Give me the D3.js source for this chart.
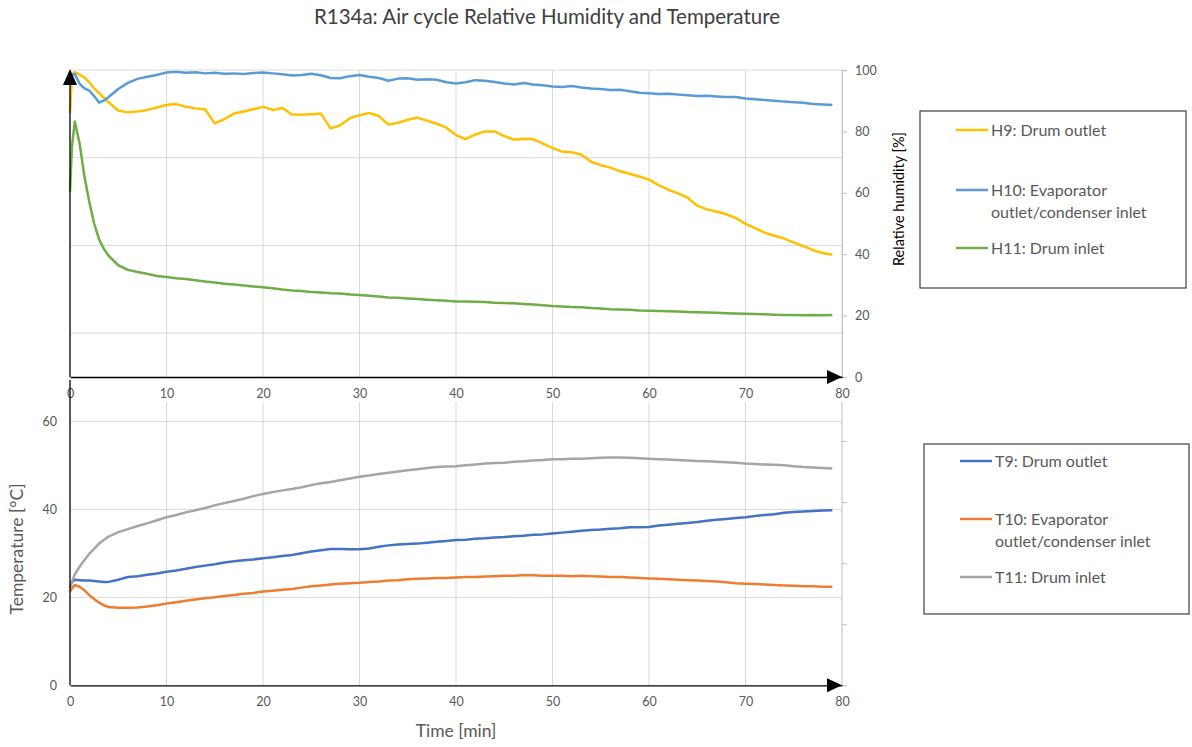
<!DOCTYPE html>
<html><head><meta charset="utf-8">
<script src="https://cdn.jsdelivr.net/npm/d3@7"></script>
<style>
html,body{margin:0;padding:0;background:#fff;}
svg{display:block;font-family:Lato, "Liberation Sans", sans-serif;}
</style></head>
<body>
<svg id="chart" width="1192" height="747"></svg>
<script>
// ---------- DATA ----------
const title = "R134a: Air cycle Relative Humidity and Temperature";
const minutes = [0,0.2,0.5,1,1.5,2,2.5,3,3.5,4,5,6,7,8,9,10,11,12,13,14,15,16,17,18,19,20,21,22,23,24,25,26,27,28,29,30,31,32,33,34,35,36,37,38,39,40,41,42,43,44,45,46,47,48,49,50,51,52,53,54,55,56,57,58,59,60,61,62,63,64,65,66,67,68,69,70,71,72,73,74,75,76,77,78,79];
const xTicks = [0,10,20,30,40,50,60,70,80];
const rhTicks = [0,20,40,60,80,100];
const tempTicks = [0,20,40,60];

const H9 = [86,98.5,99.3,98.5,97.5,96,94,92.5,91,89.5,86.8,86.2,86.5,87,87.8,88.6,88.9,88,87.5,87.2,82.6,84,85.8,86.5,87.2,88,87,87.6,85.5,85.4,85.6,85.8,81,82,84.3,85.3,86,85,82.2,82.8,83.8,84.5,83.5,82.5,81.2,78.8,77.5,79,80,80,78.5,77.3,77.6,77.5,76,74.6,73.4,73.2,72.4,70.1,69,68.2,67,66.2,65.3,64.3,62.5,61,59.8,58.4,55.8,54.6,53.9,53,51.8,49.9,48.5,47,46,45.1,43.8,42.6,41.3,40.4,39.8];
const H10 = [95.5,98.5,98.7,95.5,94,93.3,91.5,89.4,90,91.2,93.8,95.8,97.1,97.8,98.4,99.2,99.4,99.1,99.3,98.9,99.1,98.8,98.9,98.7,99,99.2,98.9,98.6,98.2,98.4,98.8,98.3,97.4,97.3,98,98.4,97.8,97.4,96.5,97.2,97.3,96.8,97,96.8,96,95.6,96,96.7,96.5,96.1,95.6,95.3,95.8,95.3,95,94.6,94.5,94.8,94.3,94,93.8,93.5,93.6,93.1,92.6,92.4,92.2,92.3,92,91.8,91.5,91.6,91.4,91.2,91.2,90.7,90.5,90.2,90,89.7,89.5,89.3,88.9,88.8,88.6];
const H11 = [60.4,75,83.2,76,65.2,57,50,45,41.8,39.5,36.4,34.9,34.2,33.6,32.9,32.6,32.2,31.9,31.5,31.1,30.8,30.4,30.1,29.8,29.5,29.2,28.9,28.5,28.2,28,27.7,27.5,27.3,27.2,26.9,26.7,26.5,26.2,25.9,25.8,25.6,25.4,25.2,25,24.8,24.6,24.6,24.5,24.4,24.2,24.1,24,23.8,23.6,23.4,23.1,23,22.8,22.7,22.5,22.3,22.1,22,21.9,21.7,21.6,21.5,21.4,21.3,21.2,21.1,21,20.9,20.8,20.7,20.6,20.5,20.4,20.3,20.2,20.2,20.1,20.2,20.1,20.2];
const T9 = [22.4,23.5,24,23.9,23.8,23.8,23.7,23.6,23.5,23.5,24,24.6,24.8,25.1,25.4,25.8,26.1,26.5,26.9,27.2,27.5,27.9,28.2,28.4,28.6,28.9,29.1,29.4,29.6,30,30.4,30.7,31,31,30.9,30.9,31.1,31.5,31.8,32,32.1,32.2,32.4,32.6,32.8,33,33.1,33.3,33.4,33.6,33.7,33.9,34,34.2,34.3,34.5,34.7,34.9,35.1,35.3,35.4,35.6,35.7,35.9,35.9,36,36.3,36.5,36.7,36.9,37.1,37.4,37.6,37.8,38,38.2,38.5,38.7,38.9,39.2,39.4,39.5,39.6,39.7,39.8];
const T10 = [21.3,22,22.8,22.4,21.6,20.5,19.6,18.8,18.2,17.8,17.6,17.6,17.7,17.9,18.2,18.6,18.9,19.2,19.5,19.8,20,20.3,20.5,20.8,21,21.3,21.5,21.7,21.9,22.2,22.5,22.7,22.9,23.1,23.2,23.3,23.5,23.6,23.8,23.9,24.1,24.2,24.3,24.4,24.4,24.5,24.6,24.6,24.7,24.8,24.9,24.9,25,25,24.9,24.9,24.9,24.8,24.9,24.8,24.7,24.6,24.6,24.5,24.4,24.3,24.2,24.1,24,23.9,23.8,23.7,23.6,23.4,23.2,23.1,23,22.9,22.8,22.7,22.6,22.5,22.5,22.4,22.4];
const T11 = [22,23.5,25.2,27,28.5,29.9,31,32.2,33,33.8,34.8,35.5,36.2,36.8,37.5,38.2,38.7,39.3,39.8,40.3,40.9,41.4,41.9,42.4,43,43.5,43.9,44.3,44.6,45,45.5,45.9,46.2,46.6,47,47.4,47.7,48,48.3,48.6,48.9,49.1,49.4,49.6,49.7,49.8,50,50.2,50.4,50.5,50.6,50.8,50.9,51.1,51.2,51.4,51.4,51.5,51.5,51.6,51.7,51.8,51.8,51.7,51.6,51.5,51.4,51.3,51.2,51.1,51,50.9,50.8,50.7,50.6,50.4,50.3,50.2,50.1,50,49.8,49.6,49.5,49.4,49.3];

const humSeries = [
  {name:["H9: Drum outlet"], values:H9, color:"#FFC000"},
  {name:["H10: Evaporator","outlet/condenser inlet"], values:H10, color:"#5B9BD5"},
  {name:["H11: Drum inlet"], values:H11, color:"#70AD47"}
];
const tempSeries = [
  {name:["T9: Drum outlet"], values:T9, color:"#4472C4"},
  {name:["T10: Evaporator","outlet/condenser inlet"], values:T10, color:"#ED7D31"},
  {name:["T11: Drum inlet"], values:T11, color:"#A5A5A5"}
];

// ---------- DRAW ----------
const svg = d3.select("#chart");
const grid = "#d9d9d9", axisGray = "#bfbfbf", txt = "#595959";

svg.append("text").attr("x", 547).attr("y", 24).attr("text-anchor","middle")
  .attr("font-size", 20.5).attr("fill", "#404040").text(title);

const x = d3.scaleLinear().domain([0,80]).range([70,842]);

function arrowRight(yy){
  svg.append("path").attr("d", `M${x(80)},${yy} l-15,-7 l0,14 z`).attr("fill","#000");
}

// ===== Top chart =====
const topY0 = 377, topY1 = 70;
const yRH = d3.scaleLinear().domain([0,100]).range([topY0, topY1]);
const yGridTop = d3.scaleLinear().domain([-10,60]).range([topY0, topY1]);

const gTop = svg.append("g");
gTop.selectAll(".hg").data([0,20,40,60]).enter().append("line")
  .attr("x1", x(0)).attr("x2", x(80))
  .attr("y1", d=>yGridTop(d)).attr("y2", d=>yGridTop(d))
  .attr("stroke", grid).attr("stroke-width",1);
gTop.selectAll(".vg").data(xTicks.slice(1)).enter().append("line")
  .attr("x1", d=>x(d)).attr("x2", d=>x(d)).attr("y1", topY1).attr("y2", topY0)
  .attr("stroke", grid).attr("stroke-width",1);

const rhAxis = svg.append("g").attr("transform", `translate(${x(80)},0)`)
  .call(d3.axisRight(yRH).tickValues(rhTicks).tickSize(5).tickPadding(8));
rhAxis.select(".domain").attr("stroke", axisGray);
rhAxis.selectAll(".tick line").attr("stroke", axisGray);
rhAxis.selectAll("text").attr("font-size", 12.5).attr("fill", txt).attr("font-family","Lato");

svg.append("text").attr("transform", `translate(904,199) rotate(-90)`)
  .attr("text-anchor","middle").attr("font-size",14.5).attr("fill","#000").text("Relative humidity [%]");

const lineRH = d3.line().x((d,i)=>x(minutes[i])).y(d=>yRH(d));
humSeries.forEach(s=>{
  svg.append("path").datum(s.values).attr("d", lineRH).attr("fill","none")
    .attr("stroke", s.color).attr("stroke-width", 2.5).attr("stroke-linejoin","round");
});

const xAxisTop = svg.append("g").attr("transform", `translate(0,${topY0})`)
  .call(d3.axisBottom(x).tickValues(xTicks).tickSize(0).tickPadding(12));
xAxisTop.select(".domain").attr("stroke","#000").attr("stroke-width",1.3);
xAxisTop.selectAll("text").attr("font-size",12.5).attr("fill",txt).attr("font-family","Lato");
arrowRight(topY0);
svg.append("line").attr("x1", x(0)).attr("x2", x(0)).attr("y1", topY0).attr("y2", topY1+10)
  .attr("stroke","#000").attr("stroke-width",1.3);
svg.append("path").attr("d", `M${x(0)},${topY1-1} l-7,16 l14,0 z`).attr("fill","#000");

// ===== Bottom chart =====
const botY0 = 685.3, botTop = 380;
const yT = d3.scaleLinear().domain([0,60]).range([botY0, 421.3]);
const yRightBot = d3.scaleLinear().domain([0,5]).range([botY0, botTop]);

svg.selectAll(".hg2").data([20,40,60]).enter().append("line")
  .attr("x1", x(0)).attr("x2", x(80)).attr("y1", d=>yT(d)).attr("y2", d=>yT(d))
  .attr("stroke", grid);
svg.selectAll(".vg2").data(xTicks.slice(1,8)).enter().append("line")
  .attr("x1", d=>x(d)).attr("x2", d=>x(d)).attr("y1", 402).attr("y2", botY0)
  .attr("stroke", grid);

const rAx = svg.append("g").attr("transform", `translate(${x(80)},0)`)
  .call(d3.axisRight(yRightBot).tickValues([0,1,2,3,4]).tickSize(5).tickFormat(""));
rAx.select(".domain").attr("stroke", axisGray).attr("d", `M0,${botY0}V402`);
rAx.selectAll(".tick line").attr("stroke", axisGray);

const lineT = d3.line().x((d,i)=>x(minutes[i])).y(d=>yT(d));
tempSeries.forEach(s=>{
  svg.append("path").datum(s.values).attr("d", lineT).attr("fill","none")
    .attr("stroke", s.color).attr("stroke-width", 2.5).attr("stroke-linejoin","round");
});

const lAx = svg.append("g").attr("transform", `translate(${x(0)},0)`)
  .call(d3.axisLeft(yT).tickValues(tempTicks).tickSize(0).tickPadding(13));
lAx.select(".domain").attr("stroke","#000").attr("stroke-width",1.3).attr("d", `M0,${botY0}V${botTop}`);
lAx.selectAll("text").attr("font-size",12.5).attr("fill",txt).attr("font-family","Lato");

const xAxisBot = svg.append("g").attr("transform", `translate(0,${botY0})`)
  .call(d3.axisBottom(x).tickValues(xTicks).tickSize(0).tickPadding(12));
xAxisBot.select(".domain").attr("stroke","#000").attr("stroke-width",1.3);
xAxisBot.selectAll("text").attr("font-size",12.5).attr("fill",txt).attr("font-family","Lato");
arrowRight(botY0);

svg.append("text").attr("transform", `translate(23,549) rotate(-90)`)
  .attr("text-anchor","middle").attr("font-size",17.5).attr("fill",txt).text("Temperature [°C]");
svg.append("text").attr("x", 456).attr("y", 737).attr("text-anchor","middle")
  .attr("font-size",17.5).attr("fill",txt).text("Time [min]");

// ===== Legends =====
function legend(series, bx, by, bw, bh, lx, rows){
  svg.append("rect").attr("x",bx).attr("y",by).attr("width",bw).attr("height",bh)
    .attr("fill","#fff").attr("stroke","#404040").attr("stroke-width",1.2);
  series.forEach((s,i)=>{
    const yy = rows[i];
    svg.append("line").attr("x1",lx).attr("x2",lx+32).attr("y1",yy).attr("y2",yy)
      .attr("stroke",s.color).attr("stroke-width",2.5);
    const t = svg.append("text").attr("x",lx+35).attr("y",yy+5.5).attr("font-size",16).attr("fill",txt);
    s.name.forEach((n,j)=>{
      t.append("tspan").attr("x",lx+35).attr("dy", j===0?0:22).text(n);
    });
  });
}
legend(humSeries, 920, 111, 266, 177, 956, [130,190,248]);
legend(tempSeries, 924, 444, 265, 170, 960, [461,519,577]);
</script>
</body></html>
